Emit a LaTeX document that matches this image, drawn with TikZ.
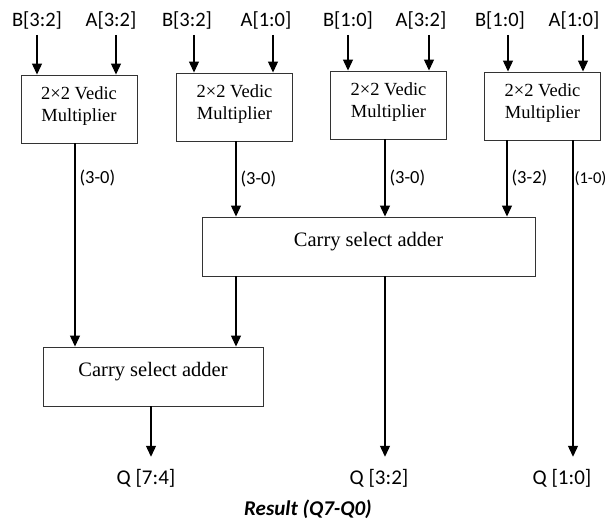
\documentclass[tikz,border=0pt]{standalone}
\usepackage{fontspec}
\setmainfont{Liberation Serif}
\newfontfamily\labelfont{Carlito}
\usetikzlibrary{positioning,arrows.meta}

\begin{document}
\begin{tikzpicture}[x=1pt, y=-1pt,
        vm/.style={draw=black!80, line width=0.9pt, minimum width=116pt,
                   minimum height=68pt, align=center, inner sep=0pt,
                   text depth=9pt, font=\fontsize{18.5}{22}\selectfont},
        csa/.style={draw=black!80, line width=0.9pt, minimum height=59pt,
                    inner sep=0pt, text depth=14pt,
                    font=\fontsize{20.5}{24}\selectfont},
        sig/.style={font=\labelfont\fontsize{20.5}{24}\selectfont, inner sep=1pt},
        qlab/.style={font=\labelfont\fontsize{21}{25}\selectfont, inner sep=1pt},
        bus/.style={right=3pt, inner sep=1pt,
                    font=\labelfont\fontsize{18.5}{22}\selectfont},
        arr/.style={line width=1.2pt, -{Triangle[length=11pt,width=10pt]}},
        feed/.style={arr, shorten <=5pt}
    ]
        \useasboundingbox (0,0) rectangle (608,521);

        % multiplier blocks
        \node[vm] (m1) at (79,109)    {2×2 Vedic\\Multiplier};
        \node[vm] (m2) at (234.5,107) {2×2 Vedic\\Multiplier};
        \node[vm] (m3) at (388.5,105) {2×2 Vedic\\Multiplier};
        \node[vm] (m4) at (542.5,106) {2×2 Vedic\\Multiplier};

        % adders
        \node[csa, minimum width=333pt] (csa1) at (368.5,246.5) {Carry select adder};
        \node[csa, minimum width=220pt] (csa2) at (153,376.5)   {Carry select adder};

        % inputs
        \node[sig] (b1) at (37,20)  {B[3:2]};
        \node[sig] (a1) at (111,20) {A[3:2]};
        \node[sig] (b2) at (187,20) {B[3:2]};
        \node[sig] (a2) at (266,20) {A[1:0]};
        \node[sig] (b3) at (348,20) {B[1:0]};
        \node[sig] (a3) at (421,20) {A[3:2]};
        \node[sig] (b4) at (500,20) {B[1:0]};
        \node[sig] (a4) at (574,20) {A[1:0]};

        % outputs
        \node[qlab] (q74) at (146,478) {Q [7:4]};
        \node[qlab] (q32) at (379,478) {Q [3:2]};
        \node[qlab] (q10) at (562,478) {Q [1:0]};
        \node[font=\labelfont\bfseries\itshape\fontsize{21}{25}\selectfont]
            (res) at (308,509) {Result (Q7-Q0)};

        \draw[feed] (b1.south) -- (b1.south |- m1.north);
        \draw[feed] ([xshift=5pt]a1.south) -- ([xshift=5pt]a1.south |- m1.north);
        \draw[feed] ([xshift=7pt]b2.south) -- ([xshift=7pt]b2.south |- m2.north);
        \draw[feed] ([xshift=7pt]a2.south) -- ([xshift=7pt]a2.south |- m2.north);
        \draw[feed] (b3.south) -- (b3.south |- m3.north);
        \draw[feed] ([xshift=8pt]a3.south) -- ([xshift=8pt]a3.south |- m3.north);
        \draw[feed] ([xshift=8pt]b4.south) -- ([xshift=8pt]b4.south |- m4.north);
        \draw[feed] ([xshift=9pt]a4.south) -- ([xshift=9pt]a4.south |- m4.north);

        \coordinate (w1) at (75,0);
        \coordinate (w2) at (236,0);
        \coordinate (w3) at (385,0);
        \coordinate (w4) at (507,0);
        \coordinate (w5) at (573,0);
        \coordinate (w6) at (151,0);

        \draw[arr] (w1 |- m1.south) -- node[bus, pos=0.17] {(3-0)} (w1 |- csa2.north);
        \draw[arr] (w2 |- m2.south) -- node[bus] {(3-0)} (w2 |- csa1.north);
        \draw[arr] (w3 |- m3.south) -- node[bus] {(3-0)} (w3 |- csa1.north);
        \draw[arr] (w4 |- m4.south) -- node[bus] {(3-2)} (w4 |- csa1.north);
        \draw[arr, shorten >=11pt] (w5 |- m4.south)
            -- node[bus, right=0.5pt, inner sep=0.5pt, pos=0.117,
                    font=\labelfont\fontsize{16.5}{20}\selectfont] {(1-0)}
            (w5 |- q10.north);

        \draw[arr] (w2 |- csa1.south) -- (w2 |- csa2.north);
        \draw[arr, shorten >=11pt] (w3 |- csa1.south) -- (w3 |- q32.north);
        \draw[arr, shorten >=11pt] (w6 |- csa2.south) -- (w6 |- q74.north);
    \end{tikzpicture}
\end{document}
